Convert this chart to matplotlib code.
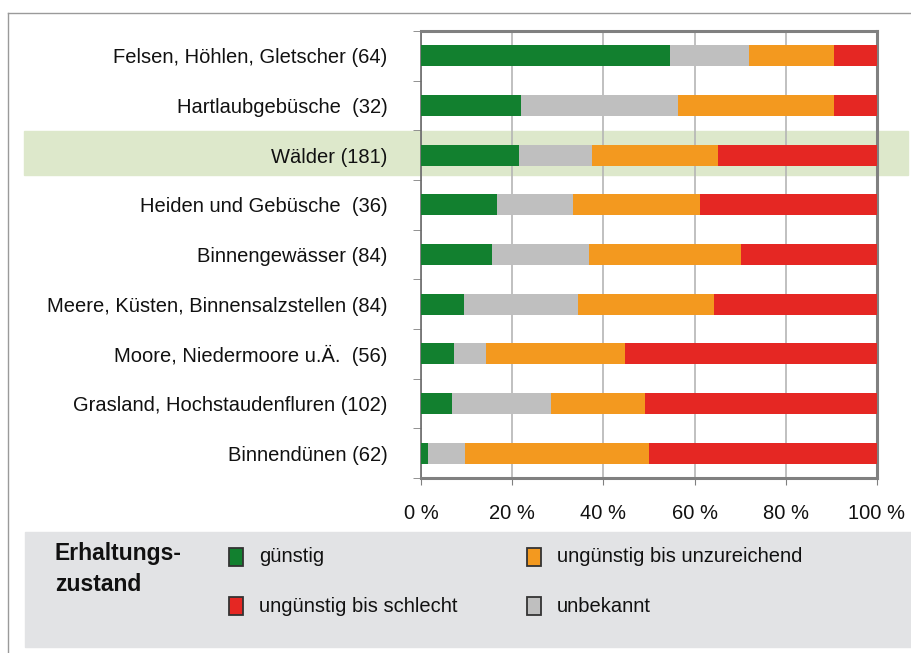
import matplotlib.pyplot as plt
from matplotlib.patches import Rectangle
from matplotlib.lines import Line2D
import numpy as np

plt.rcParams["font.family"] = ["Liberation Sans", "DejaVu Sans"]

# Lebensraumgruppen (Anzahl Bewertungen in Klammern), top to bottom
categories = [
    "Felsen, Höhlen, Gletscher (64)",
    "Hartlaubgebüsche  (32)",
    "Wälder (181)",
    "Heiden und Gebüsche  (36)",
    "Binnengewässer (84)",
    "Meere, Küsten, Binnensalzstellen (84)",
    "Moore, Niedermoore u.Ä.  (56)",
    "Grasland, Hochstaudenfluren (102)",
    "Binnendünen (62)",
]
# counts per Erhaltungszustand
guenstig = [35, 7, 39, 6, 13, 8, 4, 7, 1]
unbekannt = [11, 11, 29, 6, 18, 21, 4, 22, 5]
unzureichend = [12, 11, 50, 10, 28, 25, 17, 21, 25]
schlecht = [6, 3, 63, 14, 25, 30, 31, 52, 31]

xticks = [0, 20, 40, 60, 80, 100]
highlight = "Wälder (181)"

GREEN = "#12802f"
GREY = "#bfbfbf"
ORANGE = "#f3991f"
RED = "#e52723"
FRAME = "#808080"
TXT = "#111111"
FS = 14.5

fig = plt.figure(figsize=(9.11, 6.53), dpi=100)
W, H = 911, 653


def fx(px):
    return px / W


def fy(py):
    return 1 - py / H


# outer frame
fig.add_artist(Line2D([fx(8), fx(8)], [fy(13), fy(653)], color="#9a9a9a", lw=1))
fig.add_artist(Line2D([fx(8), 1], [fy(13), fy(13)], color="#9a9a9a", lw=1))

ax = fig.add_axes([fx(421), fy(478), 456 / W, 447 / H])
ax.set_zorder(2)
ax.patch.set_alpha(0)

series = np.array([guenstig, unbekannt, unzureichend, schlecht], dtype=float)
pct = series / series.sum(axis=0) * 100
colors = [GREEN, GREY, ORANGE, RED]
y = np.arange(len(categories))
left = np.zeros(len(categories))
for vals, c in zip(pct, colors):
    ax.barh(y, vals, left=left, height=0.42, color=c, zorder=3)
    left += vals

ax.set_xlim(0, 100)
ax.set_ylim(len(categories) - 0.5, -0.5)

ax.set_xticks(xticks)
ax.set_xticklabels([f"{t} %" for t in xticks], fontsize=FS)
ax.tick_params(axis="x", length=5, color=FRAME, pad=14, labelcolor=TXT)
ax.grid(axis="x", color="#b5b5b5", lw=1.2, zorder=1)

ax.set_yticks(y)
ax.set_yticklabels(categories, fontsize=FS, color=TXT)
ax.tick_params(axis="y", length=0, pad=24)
ax.set_yticks(np.arange(-0.5, len(categories), 1), minor=True)
ax.tick_params(axis="y", which="minor", length=6, color=FRAME)

for s in ["top", "right", "bottom"]:
    ax.spines[s].set_color(FRAME)
    ax.spines[s].set_linewidth(2.2)
ax.spines["left"].set_color("#6a6a6a")
ax.spines["left"].set_linewidth(1.2)

# highlight band for Wälder (behind the axes)
fig.patches.append(Rectangle((fx(24), fy(175)), fx(908) - fx(24), 44 / H,
                             transform=fig.transFigure, color="#dde8cb", zorder=0))

# legend box
fig.patches.append(Rectangle((fx(25), fy(647)), 1 - fx(25), 115 / H,
                             transform=fig.transFigure, color="#e2e3e5", zorder=0))
fig.text(fx(55), fy(569), "Erhaltungs-\nzustand", fontsize=16.5, fontweight="bold",
         va="center", ha="left", linespacing=1.45, color=TXT)

legend_items = [
    ("günstig", GREEN, 229, 557),
    ("ungünstig bis unzureichend", ORANGE, 527, 557),
    ("ungünstig bis schlecht", RED, 229, 606),
    ("unbekannt", GREY, 527, 606),
]
for label, c, lx, ly in legend_items:
    fig.patches.append(Rectangle((fx(lx), fy(ly + 9)), 14 / W, 18 / H,
                                 transform=fig.transFigure, facecolor=c,
                                 edgecolor="#333333", lw=1.3, zorder=2))
    fig.text(fx(lx + 30), fy(ly), label, fontsize=FS, va="center", ha="left",
             color=TXT)

fig.savefig("out.png", dpi=100)
